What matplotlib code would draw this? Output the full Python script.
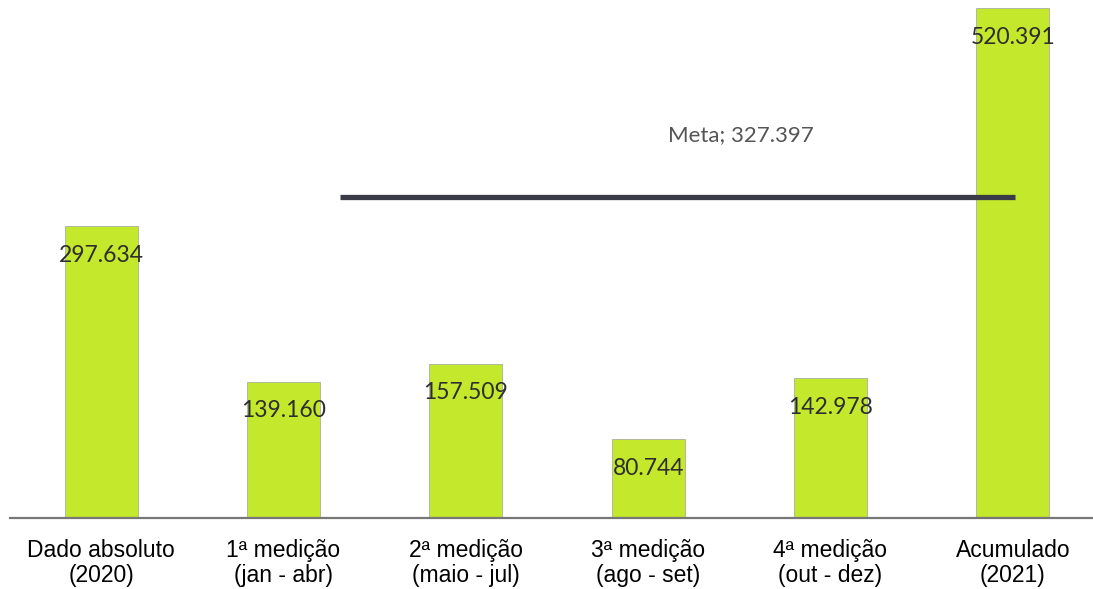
import numpy as np
from matplotlib import pyplot as plt

categorias = ['Dado absoluto\n(2020)', '1ª medição\n(jan - abr)', '2ª medição\n(maio - jul)',
              '3ª medição\n(ago - set)', '4ª medição\n(out - dez)', 'Acumulado\n(2021)']
valores = [297634, 139160, 157509, 80744, 142978, 520391]
rotulos = ['297.634', '139.160', '157.509', '80.744', '142.978', '520.391']
meta = 327397
meta_rotulo = 'Meta; 327.397'

if __name__ == '__main__':
    fig = plt.figure(figsize=(10.93, 5.89), dpi=100)
    ax = fig.add_axes([10 / 1093, 71 / 589, 1083 / 1093, 518 / 589])
    x = np.arange(len(valores))
    ax.bar(x, valores, width=0.4, color='#c4e82c', edgecolor='#a8b0a0', linewidth=0.6, zorder=2)

    for i, v in enumerate(valores):
        ax.annotate(rotulos[i], (i, v), xytext=(0, -21), textcoords='offset points',
                    ha='center', va='center', fontsize=16.5, family='Lato', color='#2e2e2e', zorder=4)

    # linha da meta
    ax.plot([1.31, 5.01], [meta, meta], color='#3a3b47', linewidth=3.8,
            solid_capstyle='butt', zorder=3)
    ax.annotate(meta_rotulo, (3.51, meta), xytext=(0, 45), textcoords='offset points',
                ha='center', va='center', fontsize=16, family='Lato', color='#555555')

    ax.set_xlim(-0.5, 5.44)
    ax.set_ylim(0, 528600)
    ax.set_xticks(x)
    ax.set_xticklabels(categorias, fontsize=16.5, family='Liberation Sans', linespacing=1.1)
    ax.tick_params(axis='x', length=0, pad=15)
    ax.set_yticks([])
    for s in ['top', 'right', 'left']:
        ax.spines[s].set_visible(False)
    ax.spines['bottom'].set_color('#777777')
    ax.spines['bottom'].set_linewidth(1.6)

    plt.savefig('out.png', dpi=100)
